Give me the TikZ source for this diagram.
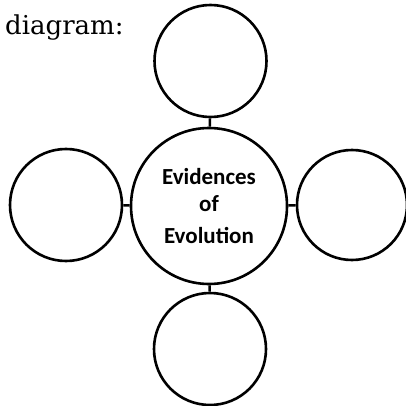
\documentclass[tikz,border=0pt]{standalone}
\usepackage{fontspec}
\setmainfont{DejaVu Serif}
\newfontfamily\boxfont{Carlito}
\usetikzlibrary{positioning}

\tikzset{
    bubble/.style={circle, draw=black, line width=2.6pt, minimum size=112pt, inner sep=0pt},
    hub/.style={bubble, minimum size=156pt, align=center,
        font=\boxfont\bfseries\fontsize{23}{27}\selectfont},
    link/.style={line width=2.6pt}
}

\begin{document}
\begin{tikzpicture}[x=1pt, y=1pt]
    \useasboundingbox (0,0) rectangle (406,405);

    % Caption line
    \node[anchor=base west, inner sep=0pt, font=\fontsize{26}{30}\selectfont] (caption) at (5,370) {diagram:};

    % Centre circle
    \node[hub] (core) at (209,199) {Evidences\\of\\[5pt]Evolution};

    % Outer circles
    \node[bubble] (north) at (210.5,344) {};
    \node[bubble] (west)  at (66,200) {};
    \node[bubble, minimum size=110pt] (east) at (352,200) {};
    \node[bubble] (south) at (210,56) {};

    % Connectors
    \draw[link] (core) -- (north);
    \draw[link] (core) -- (west);
    \draw[link] (core) -- (east);
    \draw[link] (core) -- (south);
\end{tikzpicture}
\end{document}
